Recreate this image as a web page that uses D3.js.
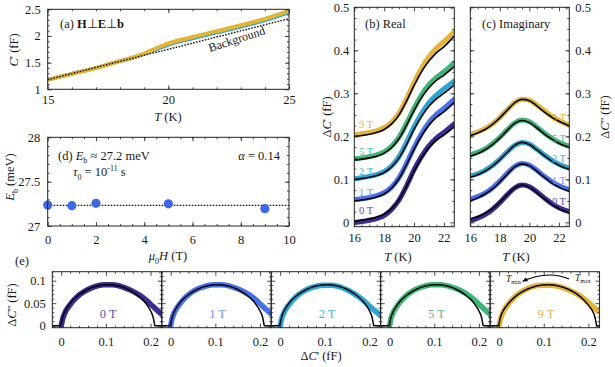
<!DOCTYPE html>
<html><head><meta charset="utf-8">
<script src="https://cdn.jsdelivr.net/npm/d3@7"></script>
<style>
body{margin:0;background:#fff}
svg text{font-family:'Liberation Serif','Times New Roman',serif}
</style></head><body>
<svg id="c" width="615" height="367"></svg>
<script>
// ---------------- DATA ----------------
const fields = ["0 T", "1 T", "2 T", "5 T", "9 T"];
const waterfallOffset = [0, 0.05, 0.1, 0.15, 0.2];

// (a) raw capacitance C' (fF) vs T (K)
const tempA = [15, 16, 17, 18, 18.5, 19, 19.5, 20, 21, 22, 23, 24, 25];
const capA0 = [1.18, 1.29, 1.40, 1.53, 1.59, 1.665, 1.755, 1.84, 1.96, 2.07, 2.18, 2.30, 2.45];
const capA1 = [1.18, 1.29, 1.40, 1.53, 1.59, 1.665, 1.755, 1.845, 1.965, 2.075, 2.185, 2.30, 2.45];
const capA2 = [1.18, 1.29, 1.40, 1.525, 1.583, 1.655, 1.745, 1.83, 1.95, 2.06, 2.17, 2.29, 2.44];
const capA5 = [1.18, 1.29, 1.40, 1.53, 1.59, 1.665, 1.76, 1.85, 1.97, 2.08, 2.19, 2.31, 2.46];
const capA9 = [1.18, 1.29, 1.40, 1.53, 1.59, 1.67, 1.77, 1.86, 1.98, 2.09, 2.20, 2.32, 2.47];
const backgroundA = [1.18, 1.295, 1.41, 1.525, 1.58, 1.64, 1.695, 1.75, 1.865, 1.98, 2.095, 2.21, 2.325];

// (b),(c) temperature grid
const tempGrid = [16, 16.5, 17, 17.5, 18, 18.5, 19, 19.5, 20, 20.5, 21, 21.5, 22, 22.7];
// real part, measured (without waterfall offset)
const re0 = [0.000, 0.002, 0.005, 0.009, 0.016, 0.030, 0.052, 0.085, 0.122, 0.153, 0.178, 0.196, 0.209, 0.229];
const re1 = [0.003, 0.005, 0.008, 0.012, 0.019, 0.032, 0.054, 0.087, 0.124, 0.156, 0.182, 0.201, 0.215, 0.237];
const re2 = [0.002, 0.004, 0.007, 0.011, 0.018, 0.031, 0.053, 0.086, 0.122, 0.153, 0.178, 0.196, 0.210, 0.229];
const re5 = [-0.002, 0.000, 0.003, 0.007, 0.014, 0.027, 0.048, 0.080, 0.115, 0.146, 0.170, 0.187, 0.200, 0.221];
const re9 = [0.004, 0.006, 0.009, 0.013, 0.020, 0.033, 0.054, 0.087, 0.125, 0.158, 0.185, 0.205, 0.220, 0.243];
// real part, fit
const fitRe0 = [0.003, 0.005, 0.008, 0.012, 0.019, 0.032, 0.053, 0.084, 0.119, 0.150, 0.174, 0.191, 0.203, 0.222];
const fitRe1 = [0.000, 0.002, 0.005, 0.009, 0.016, 0.030, 0.052, 0.084, 0.120, 0.151, 0.176, 0.194, 0.207, 0.229];
const fitRe2 = [0.000, 0.002, 0.005, 0.009, 0.016, 0.029, 0.050, 0.081, 0.116, 0.146, 0.170, 0.187, 0.200, 0.219];
const fitRe5 = [-0.005, -0.003, 0.000, 0.004, 0.011, 0.024, 0.045, 0.076, 0.110, 0.140, 0.163, 0.180, 0.192, 0.212];
const fitRe9 = [0.000, 0.002, 0.005, 0.009, 0.016, 0.029, 0.050, 0.082, 0.118, 0.150, 0.175, 0.194, 0.208, 0.233];
// imaginary part, measured
const im0 = [0.004, 0.010, 0.018, 0.030, 0.046, 0.064, 0.080, 0.087, 0.083, 0.071, 0.057, 0.044, 0.034, 0.025];
const im1 = [0.004, 0.010, 0.018, 0.030, 0.046, 0.064, 0.080, 0.087, 0.083, 0.071, 0.057, 0.045, 0.035, 0.026];
const im2 = [0.008, 0.013, 0.021, 0.032, 0.047, 0.064, 0.079, 0.086, 0.082, 0.070, 0.057, 0.045, 0.035, 0.026];
const im5 = [0.007, 0.013, 0.021, 0.033, 0.048, 0.065, 0.081, 0.088, 0.084, 0.072, 0.058, 0.046, 0.036, 0.027];
const im9 = [0.004, 0.010, 0.018, 0.029, 0.044, 0.062, 0.078, 0.086, 0.084, 0.073, 0.060, 0.047, 0.037, 0.026];
// imaginary part, fit
const fitIm0 = [0.008, 0.013, 0.021, 0.032, 0.047, 0.064, 0.080, 0.087, 0.082, 0.069, 0.055, 0.042, 0.032, 0.022];
const fitIm1 = [0.000, 0.007, 0.016, 0.028, 0.044, 0.062, 0.079, 0.086, 0.082, 0.069, 0.055, 0.042, 0.032, 0.022];
const fitIm2 = [0.005, 0.011, 0.019, 0.031, 0.046, 0.063, 0.079, 0.086, 0.081, 0.069, 0.055, 0.043, 0.033, 0.023];
const fitIm5 = [0.004, 0.010, 0.019, 0.031, 0.046, 0.064, 0.080, 0.087, 0.082, 0.070, 0.056, 0.044, 0.034, 0.024];
const fitIm9 = [0.002, 0.008, 0.016, 0.028, 0.043, 0.061, 0.078, 0.086, 0.083, 0.071, 0.057, 0.045, 0.035, 0.024];

// (d) activation energy vs field
const ebField = [0, 1, 2, 5, 9];
const ebValue = [27.237, 27.229, 27.256, 27.25, 27.195];
const ebMeanField = [0, 10];
const ebMean = [27.232, 27.232];

// (e) Cole-Cole data (ΔC', ΔC'')
const coleX = [0, 0.003, 0.009, 0.02, 0.035, 0.055, 0.075, 0.095, 0.115, 0.135, 0.155, 0.175, 0.19, 0.205, 0.215, 0.223];
const coleY0 = [0, 0.014, 0.030, 0.047, 0.064, 0.078, 0.087, 0.091, 0.091, 0.087, 0.079, 0.068, 0.057, 0.043, 0.034, 0.027];
const coleY1 = [0, 0.015, 0.031, 0.048, 0.065, 0.079, 0.087, 0.091, 0.091, 0.087, 0.080, 0.069, 0.058, 0.044, 0.035, 0.028];
const coleY2 = [0, 0.014, 0.030, 0.047, 0.064, 0.078, 0.086, 0.090, 0.090, 0.086, 0.077, 0.065, 0.053, 0.039, 0.031, 0.025];
const coleY5 = [0, 0.015, 0.031, 0.048, 0.065, 0.079, 0.087, 0.091, 0.091, 0.087, 0.080, 0.069, 0.057, 0.043, 0.034, 0.027];
const coleY9 = [0, 0.014, 0.030, 0.047, 0.064, 0.078, 0.087, 0.090, 0.090, 0.087, 0.080, 0.070, 0.060, 0.047, 0.038, 0.031];
// (e) Cole-Cole fit arcs
const arcX = [-0.03, -0.002, 0.0, 0.003, 0.008, 0.015, 0.025, 0.04, 0.06, 0.08, 0.1045, 0.129, 0.149, 0.169, 0.184, 0.194, 0.201, 0.206, 0.2085, 0.2095, 0.25];
const arcY = [0, 0, 0.005, 0.018, 0.031, 0.043, 0.056, 0.069, 0.081, 0.088, 0.091, 0.088, 0.081, 0.069, 0.056, 0.043, 0.031, 0.018, 0.005, 0, 0];
const arc9X = [-0.03, -0.002, 0.0, 0.003, 0.008, 0.016, 0.027, 0.042, 0.063, 0.084, 0.109, 0.134, 0.155, 0.176, 0.191, 0.202, 0.210, 0.215, 0.2175, 0.2185, 0.25];
const arc9Y = [0, 0, 0.005, 0.018, 0.031, 0.043, 0.056, 0.069, 0.081, 0.088, 0.091, 0.088, 0.081, 0.069, 0.056, 0.043, 0.031, 0.018, 0.005, 0, 0];

// groupings
const capA = [capA0, capA1, capA2, capA5, capA9];
const reData = [re0, re1, re2, re5, re9];
const reFit = [fitRe0, fitRe1, fitRe2, fitRe5, fitRe9];
const imData = [im0, im1, im2, im5, im9];
const imFit = [fitIm0, fitIm1, fitIm2, fitIm5, fitIm9];
const coleY = [coleY0, coleY1, coleY2, coleY5, coleY9];
const arcsX = [arcX, arcX, arcX, arcX, arc9X];
const arcsY = [arcY, arcY, arcY, arcY, arc9Y];

// ---------------- STYLE ----------------
const colors = ["#3b2b93", "#4670ec", "#2ba5d6", "#3bb677", "#e5b432"];
const labelColors = ["#5a4cc2", "#6d90f6", "#3fb2e4", "#4cc189", "#e3b542"];
const TICKFS = 12.5;

const svg = d3.select("#c");
const defs = svg.append("defs");
let clipId = 0;
function clip(x, y) {
  const id = "clip" + (clipId++);
  const [x0, x1] = x.range(), [y0, y1] = y.range();
  defs.append("clipPath").attr("id", id).append("rect")
    .attr("x", Math.min(x0, x1)).attr("y", Math.min(y0, y1))
    .attr("width", Math.abs(x1 - x0)).attr("height", Math.abs(y1 - y0));
  return "url(#" + id + ")";
}

function frame(g, x, y, o) {
  const [x0, x1] = x.range(), [y0, y1] = y.range();
  const L = Math.min(x0, x1), R = Math.max(x0, x1), B = Math.max(y0, y1), T = Math.min(y0, y1);
  const none = () => "";
  const mk = (axis, tr, vals, size, fmt, pad) => {
    const a = g.append("g").attr("transform", tr)
      .call(axis.tickValues(vals).tickSize(size).tickFormat(fmt || none).tickPadding(pad || 3));
    a.select(".domain").remove();
    a.selectAll("line").attr("stroke", "#333").attr("stroke-width", 0.9);
    a.selectAll("text").attr("font-size", TICKFS).attr("fill", "#1a1a1a");
    return a;
  };
  mk(d3.axisBottom(x), `translate(0,${B})`, o.xMajor, -4, o.xFmt, o.xPad);
  mk(d3.axisBottom(x), `translate(0,${B})`, o.xMinor, -2);
  mk(d3.axisTop(x), `translate(0,${T})`, o.xMajor, -4);
  mk(d3.axisTop(x), `translate(0,${T})`, o.xMinor, -2);
  mk(d3.axisLeft(y), `translate(${L},0)`, o.yMajor, -4, o.yLFmt, o.yPad);
  mk(d3.axisLeft(y), `translate(${L},0)`, o.yMinor, -2);
  mk(d3.axisRight(y), `translate(${R},0)`, o.yMajor, -4, o.yRFmt, o.yPad);
  mk(d3.axisRight(y), `translate(${R},0)`, o.yMinor, -2);
  g.append("rect").attr("x", L).attr("y", T).attr("width", R - L).attr("height", B - T)
    .attr("fill", "none").attr("stroke", "#222").attr("stroke-width", 1);
}

function rich(sel, parts) {
  let shift = 0;
  parts.forEach(p => {
    const ts = sel.append("tspan").text(p.t);
    if (p.i) ts.attr("font-style", "italic");
    if (p.b) ts.attr("font-weight", "bold");
    if (p.fs) ts.attr("font-size", p.fs);
    const target = p.sub ? (p.subDy || 3.5) : p.sup ? -5 : 0;
    if (target !== shift) { ts.attr("dy", target - shift); shift = target; }
  });
  return sel;
}
function txt(x, y, size, opts = {}) {
  const t = svg.append("text").attr("x", x).attr("y", y)
    .attr("font-size", size).attr("fill", opts.fill || "#1a1a1a")
    .attr("text-anchor", opts.anchor || "start");
  if (opts.rot) t.attr("transform", `rotate(${opts.rot},${x},${y})`);
  return t;
}
const range = (a, b, s) => d3.range(a, b + s / 2, s).map(v => +v.toFixed(4));
const fmtNum = d => d === 0 ? "0" : String(+d.toFixed(3));

// ---------------- PANEL (a) ----------------
const xA = d3.scaleLinear().domain([15, 25]).range([47.7, 289]);
const yA = d3.scaleLinear().domain([1, 2.5]).range([89.3, 9.3]);
const gA = svg.append("g");
const gAc = gA.append("g").attr("clip-path", clip(xA, yA));
const lineA = d3.line().x(d => xA(d[0])).y(d => yA(d[1])).curve(d3.curveMonotoneX);
[0, 1, 3, 2, 4].forEach(i => {
  gAc.append("path").datum(tempA.map((t, j) => [t, capA[i][j]]))
    .attr("d", lineA).attr("fill", "none").attr("stroke", colors[i])
    .attr("stroke-width", i === 4 ? 4 : 3.2).attr("stroke-linecap", "round");
});
gAc.append("path").datum(tempA.map((t, j) => [t, backgroundA[j]]))
  .attr("d", lineA).attr("fill", "none").attr("stroke", "#111")
  .attr("stroke-width", 1.4).attr("stroke-dasharray", "1.6,1.4");
frame(gA, xA, yA, {
  xMajor: [15, 20, 25], xMinor: range(16, 24, 1), xFmt: d => d, xPad: 6,
  yMajor: [1, 1.5, 2, 2.5], yMinor: range(1.1, 2.4, 0.1), yLFmt: d => d, yPad: 7
});
rich(txt(60, 27.5, 12.5), [{t: "(a) "}, {t: "H", b: 1}, {t: "⊥"}, {t: "E", b: 1}, {t: "⊥"}, {t: "b", b: 1}]);
txt(238, 43, 12, {anchor: "middle", rot: -18}).text("Background");
rich(txt(18, 50, 12.5, {anchor: "middle", rot: -90}), [{t: "C", i: 1}, {t: "' (fF)"}]);
rich(txt(168, 121, 12.5, {anchor: "middle"}), [{t: "T", i: 1}, {t: " (K)"}]);

// ---------------- PANEL (d) ----------------
const xD = d3.scaleLinear().domain([0, 10]).range([47.7, 289]);
const yD = d3.scaleLinear().domain([27, 28]).range([226, 137.3]);
const gD = svg.append("g");
gD.append("path").datum(ebMeanField.map((f, j) => [f, ebMean[j]]))
  .attr("d", d3.line().x(d => xD(d[0])).y(d => yD(d[1])))
  .attr("stroke", "#111").attr("stroke-width", 1.4).attr("stroke-dasharray", "1.6,1.4").attr("fill", "none");
gD.selectAll("circle").data(ebField.map((f, j) => [f, ebValue[j]])).join("circle")
  .attr("cx", d => xD(d[0])).attr("cy", d => yD(d[1])).attr("r", 4.6).attr("fill", "#3f68e8");
frame(gD, xD, yD, {
  xMajor: range(0, 10, 2), xMinor: range(0.5, 9.5, 0.5), xFmt: d => d, xPad: 9,
  yMajor: [27, 27.5, 28], yMinor: range(27.1, 27.9, 0.1), yLFmt: d => d, yPad: 7.5
});
rich(txt(58, 159.5, 12.5), [{t: "(d) "}, {t: "E", i: 1}, {t: "b", sub: 1, fs: 8}, {t: " ≈ 27.2 meV"}]);
rich(txt(73, 176, 12.5), [{t: "τ", i: 1}, {t: "0", sub: 1, fs: 8}, {t: " = 10"}, {t: "-11", sup: 1, fs: 8}, {t: " s"}]);
rich(txt(280, 159.5, 12.5, {anchor: "end"}), [{t: "α", i: 1}, {t: " = 0.14"}]);
rich(txt(14, 177, 12.5, {anchor: "middle", rot: -90}), [{t: "E", i: 1}, {t: "b", sub: 1, fs: 8}, {t: " (meV)"}]);
rich(txt(168, 260, 12.5, {anchor: "middle"}), [{t: "μ", i: 1}, {t: "0", sub: 1, fs: 8, subDy: 4}, {t: "H", i: 1}, {t: " (T)"}]);

// ---------------- PANELS (b),(c) ----------------
function wfPanel(xr, dataArr, fitArr, cfg) {
  const x = d3.scaleLinear().domain([16, 22.7]).range(xr);
  const y = d3.scaleLinear().domain([-0.01, 0.5]).range([226.7, 7.3]);
  const g = svg.append("g");
  const gc = g.append("g").attr("clip-path", clip(x, y));
  const line = d3.line().x(d => x(d[0])).y(d => y(d[1])).curve(d3.curveMonotoneX);
  fields.forEach((f, i) => {
    const off = waterfallOffset[i];
    gc.append("path").datum(tempGrid.map((t, j) => [t, dataArr[i][j] + off]))
      .attr("d", line).attr("fill", "none").attr("stroke", colors[i])
      .attr("stroke-width", 5).attr("stroke-linecap", "round");
    gc.append("path").datum(tempGrid.map((t, j) => [t, fitArr[i][j] + off]))
      .attr("d", line).attr("fill", "none").attr("stroke", "#000").attr("stroke-width", 1.6);
  });
  frame(g, x, y, {
    xMajor: [16, 18, 20, 22], xMinor: range(16.5, 22.5, 0.5).filter(v => v % 2 !== 0),
    xFmt: d => d, xPad: 6,
    yMajor: range(0, 0.5, 0.1), yMinor: range(0.025, 0.475, 0.025),
    yLFmt: cfg.left ? fmtNum : null, yRFmt: cfg.left ? null : fmtNum, yPad: cfg.left ? 5 : 6
  });
  return {x, y, g};
}
const pB = wfPanel([354.3, 454.3], reData, reFit, {left: true});
const pC = wfPanel([470.3, 569.3], imData, imFit, {left: false});
txt(365, 27.5, 12.5).text("(b) Real");
txt(482, 27.5, 12.5).text("(c) Imaginary");
const bLabelY = [210, 192, 171.5, 151, 124];
const cLabelY = [201, 180, 158, 138, 117];
fields.forEach((f, i) => {
  txt(359, bLabelY[i] + 3.5, 10.5, {fill: labelColors[i]}).text(f);
  txt(566, cLabelY[i] + 3.5, 10.5, {fill: labelColors[i], anchor: "end"}).text(f);
});
rich(txt(331, 117, 12.5, {anchor: "middle", rot: -90}), [{t: "Δ"}, {t: "C", i: 1}, {t: "' (fF)"}]);
rich(txt(609, 117, 12.5, {anchor: "middle", rot: -90}), [{t: "Δ"}, {t: "C", i: 1}, {t: "'' (fF)"}]);
rich(txt(398, 260.5, 12.5, {anchor: "middle"}), [{t: "T", i: 1}, {t: " (K)"}]);
rich(txt(516, 260.5, 12.5, {anchor: "middle"}), [{t: "T", i: 1}, {t: " (K)"}]);

// ---------------- PANEL (e) ----------------
const eLeft = 52.3, eW = 109.45;
const yE = d3.scaleLinear().domain([-0.0045, 0.12]).range([327.7, 271.7]);
fields.forEach((f, i) => {
  const x = d3.scaleLinear().domain([-0.02, 0.225]).range([eLeft + i * eW, eLeft + (i + 1) * eW]);
  const g = svg.append("g");
  const gc = g.append("g").attr("clip-path", clip(x, yE));
  const lineD = d3.line().x(d => x(d[0])).y(d => yE(d[1])).curve(d3.curveMonotoneX);
  gc.append("path").datum(coleX.map((v, j) => [v, coleY[i][j]]))
    .attr("d", lineD).attr("fill", "none").attr("stroke", colors[i])
    .attr("stroke-width", 5.5).attr("stroke-linecap", "round");
  gc.append("path").datum(arcsX[i].map((v, j) => [v, arcsY[i][j]]))
    .attr("d", lineD).attr("fill", "none").attr("stroke", "#000").attr("stroke-width", 1.5);
  frame(g, x, yE, {
    xMajor: [0, 0.1, 0.2], xMinor: range(-0.02, 0.22, 0.02).filter(v => Math.abs(v * 10 - Math.round(v * 10)) > 1e-6),
    xFmt: fmtNum, xPad: 9,
    yMajor: [0, 0.05, 0.1], yMinor: range(0.01, 0.11, 0.01).filter(v => Math.abs(v * 20 - Math.round(v * 20)) > 1e-6),
    yLFmt: i === 0 ? fmtNum : null, yPad: 6.5
  });
  txt(x(0.105), yE(0.026) + 4.5, 12.5, {fill: labelColors[i], anchor: "middle"}).text(f);
});
txt(22, 265, 12.5, {anchor: "middle"}).text("(e)");
rich(txt(16, 305, 12.5, {anchor: "middle", rot: -90}), [{t: "Δ"}, {t: "C", i: 1}, {t: "'' (fF)"}]);
rich(txt(321, 360, 12.5, {anchor: "middle"}), [{t: "Δ"}, {t: "C", i: 1}, {t: "' (fF)"}]);
// Tmin <- Tmax annotation
defs.append("marker").attr("id", "arrow").attr("viewBox", "0 0 10 10").attr("refX", 8).attr("refY", 5)
  .attr("markerWidth", 5).attr("markerHeight", 5).attr("orient", "auto")
  .append("path").attr("d", "M0,1 L10,5 L0,9 z").attr("fill", "#000");
svg.append("path").attr("d", "M569,279 Q548,270 523,281").attr("fill", "none")
  .attr("stroke", "#000").attr("stroke-width", 1.1).attr("marker-end", "url(#arrow)");
rich(txt(506, 282, 9.5), [{t: "T", i: 1}, {t: "min", sub: 1, fs: 6, subDy: 2}]);
rich(txt(575, 281, 9.5), [{t: "T", i: 1}, {t: "max", sub: 1, fs: 6, subDy: 2}]);
</script>
</body></html>
